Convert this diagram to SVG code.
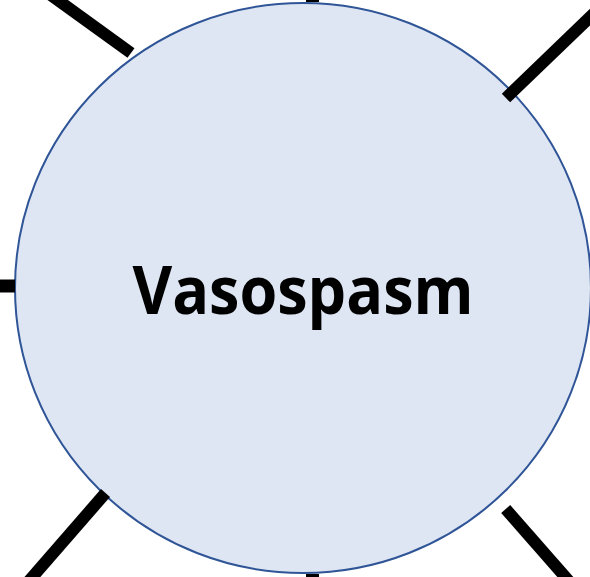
<svg xmlns="http://www.w3.org/2000/svg" width="590" height="577" viewBox="0 0 590 577">
  <style>
    .conn { stroke: #000000; stroke-width: 12; stroke-linecap: butt; fill: none; }
    .node { fill: #DEE6F4; stroke: #2F5597; stroke-width: 2; }
    .label { font-family: "Open Sans", "Liberation Sans", sans-serif; font-weight: bold; font-size: 66px; fill: #000000; }
  </style>
  <rect x="0" y="0" width="590" height="577" fill="#FFFFFF"/>
  <g id="vasospasm">
    <ellipse class="node" cx="303" cy="288" rx="288" ry="285"/>
    <text class="label" x="303" y="314" text-anchor="middle" textLength="341" lengthAdjust="spacingAndGlyphs">Vasospasm</text>
  </g>
  <g id="connectors">
    <line class="conn" x1="30" y1="-20" x2="131" y2="53"/>
    <line class="conn" x1="312.5" y1="-10" x2="312.5" y2="2" style="stroke-width:13"/>
    <line class="conn" x1="612" y1="-4" x2="506" y2="98"/>
    <line class="conn" x1="-5" y1="286" x2="15" y2="286" style="stroke-width:13"/>
    <line class="conn" x1="15" y1="597" x2="105.5" y2="493"/>
    <line class="conn" x1="582" y1="596" x2="505.7" y2="509"/>
    <line class="conn" x1="312.5" y1="574" x2="312.5" y2="590" style="stroke-width:13"/>
  </g>
</svg>
